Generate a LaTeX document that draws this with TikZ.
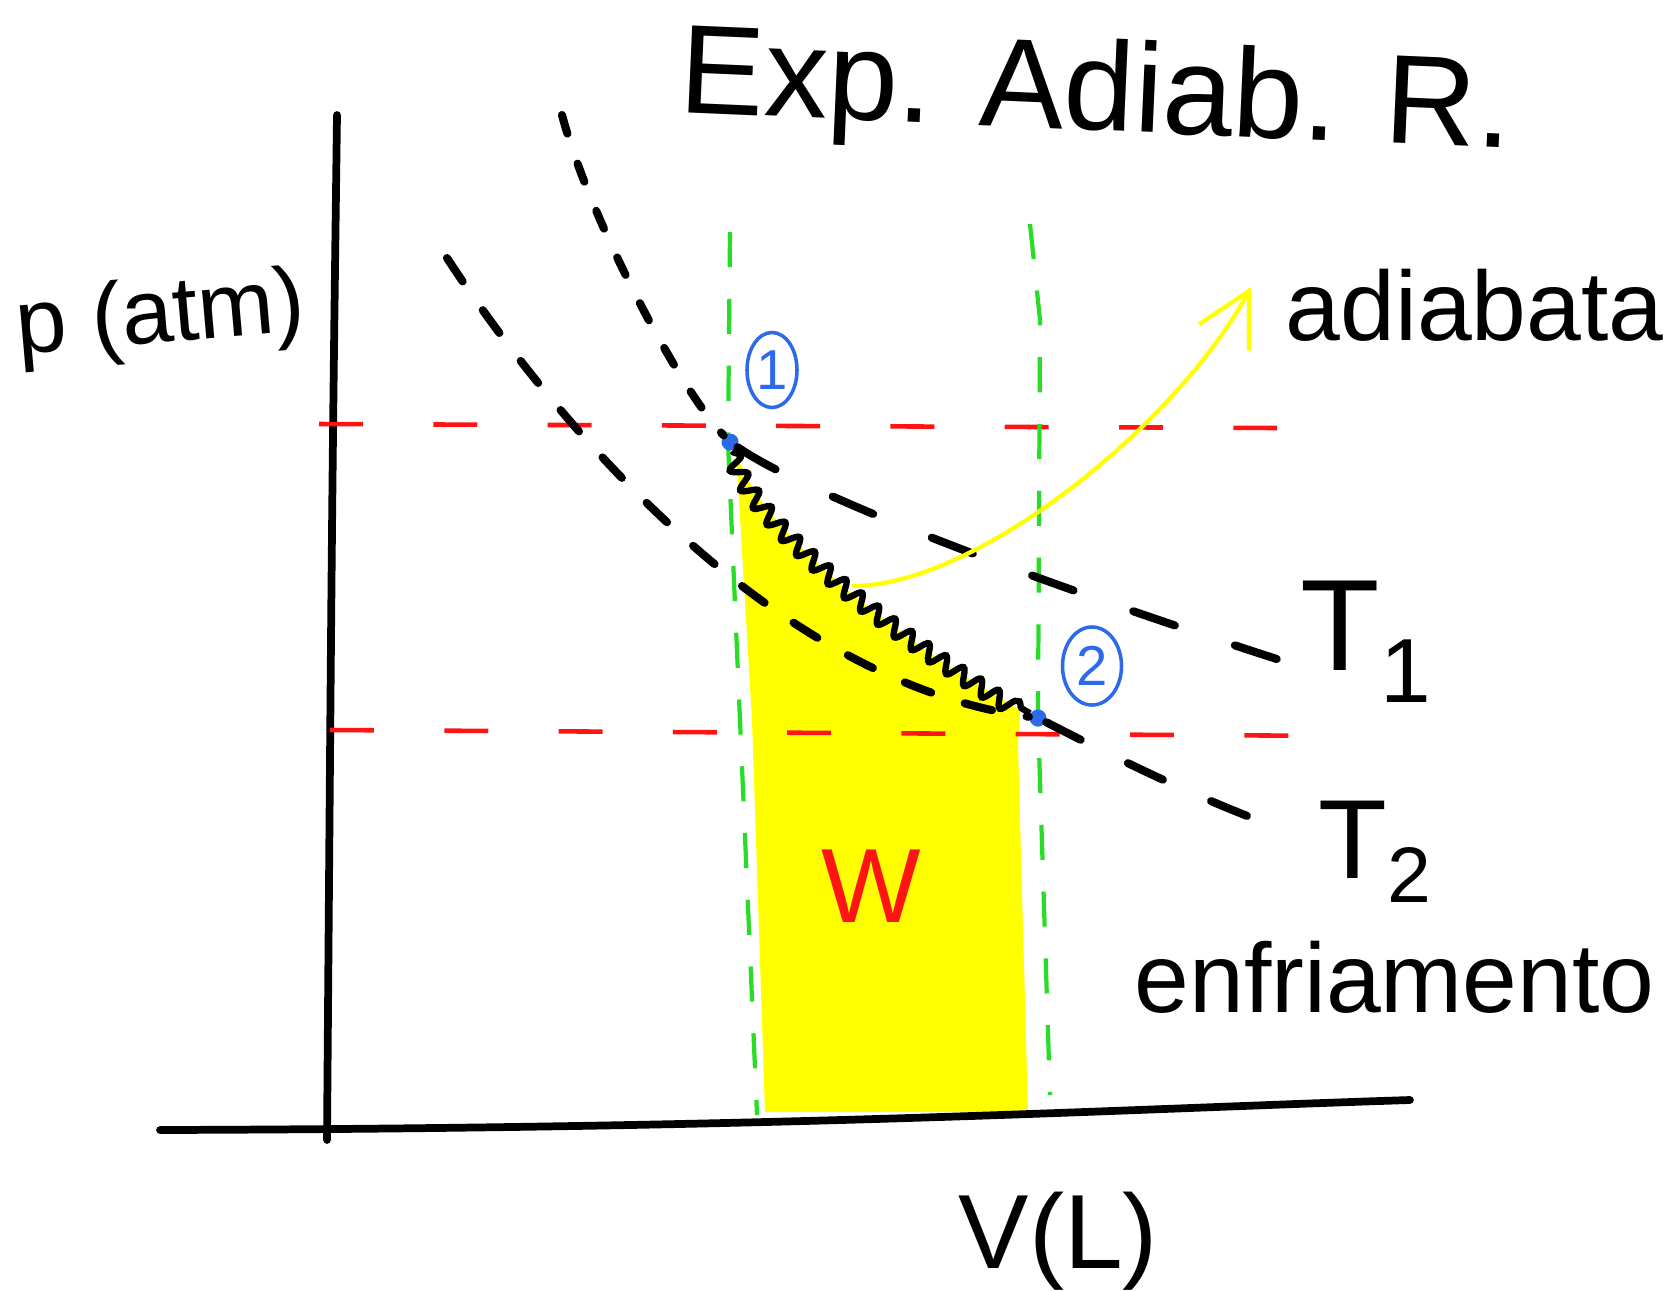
\documentclass[tikz,border=0pt]{standalone}
\usepackage{fontspec}
\setmainfont{Liberation Sans}
\usetikzlibrary{arrows.meta,decorations.pathmorphing,shapes.geometric}
\definecolor{penred}{RGB}{255,20,20}
\definecolor{pengreen}{RGB}{40,220,40}
\definecolor{penblue}{RGB}{45,105,235}
\definecolor{penyellow}{RGB}{255,255,0}
\begin{document}
\begin{tikzpicture}[
    x=0.01cm, y=-0.01cm,
    axis/.style={line width=2.2pt, line cap=round, black},
    isoline/.style={line width=2.3pt, line cap=round, black},
    pline/.style={line width=1.3pt, penred, dash pattern=on 12.5pt off 20pt},
    vline/.style={line width=1.2pt, pengreen, dash pattern=on 10pt off 9pt},
    dot/.style={circle, fill=penblue, inner sep=0pt, minimum size=0.17cm},
    statelbl/.style={ellipse, draw=penblue, line width=1pt, text=penblue, inner sep=0pt, font=\fontsize{16}{18}\selectfont},
    hand/.style={text=black, inner sep=0pt},
]
\useasboundingbox (0,0) rectangle (1669,1290);
\fill[white] (0,0) rectangle (1669,1290);

% Work area
\fill[penyellow] (736,450) .. controls (752,520) and (875,625) .. (1020,710) -- (1018,745) -- (1028,1112) -- (765,1112) -- (752,720) -- cycle;

% Axes
\draw[axis] (337,115) .. controls (332,500) .. (327,1140);
\draw[axis] (160,1130) .. controls (800,1128) and (1100,1110) .. (1410,1100);

% Guides
\draw[pline] (319,424) -- (1277,428);
\draw[pline] (330,730) -- (1352,736);
\draw[vline] (730,232) -- (728,442) -- (757,1115);
\draw[vline] (1030,224) -- (1040,320) -- (1038,718) -- (1050,1095);

% States
\node[dot] (p1) at (730,442) {};
\node[dot] (p2) at (1038,718) {};
\node[statelbl, minimum width=0.5cm, minimum height=0.75cm] (c1) at (772,370) {1};
\node[statelbl, minimum width=0.59cm, minimum height=0.78cm] (c2) at (1092,666) {2};

% Isotherms
\coordinate (t1a) at (562,115);
\coordinate (t1b) at (1283,661);
\coordinate (t2a) at (447,258);
\coordinate (t2b) at (1290,832);
\draw[isoline, dash pattern=on 5.5pt off 9pt] (t1a) .. controls (590,220) and (680,390) .. (p1);
\draw[isoline, dash pattern=on 12.5pt off 18pt] (p1) .. controls (800,490) and (1000,570) .. (t1b);
\draw[isoline, dash pattern=on 8pt off 10pt] (t2a) .. controls (540,400) and (760,680) .. (p2);
\draw[isoline, dash pattern=on 11pt off 15pt] (p2) .. controls (1120,760) and (1200,800) .. (t2b);

% Adiabat
\draw[line width=1.8pt, decorate, decoration={snake, segment length=6pt, amplitude=2.2pt}] (p1) .. controls (745,510) and (880,625) .. (p2);
\coordinate (adb) at (852,586);
\coordinate (adtip) at (1251,287);
\draw[line width=1.2pt, penyellow, -{Straight Barb[length=15pt, width=16pt]}] (adb) .. controls (980,586) and (1180,420) .. (adtip);

% Labels
\node[hand, font=\fontsize{36}{40}\selectfont, anchor=base west, rotate=-2.5] (ttl) at (678,112) {Exp. Adiab. R.};
\node[hand, font=\fontsize{26}{30}\selectfont, anchor=base west, rotate=5] (plbl) at (18,355) {p (atm)};
\node[hand, font=\fontsize{30}{34}\selectfont, anchor=base west] (vlbl) at (958,1268) {V(L)};
\node[hand, font=\fontsize{28}{32}\selectfont, anchor=base west] (adlbl) at (1285,340) {adiabata};
\node[hand, font=\fontsize{37}{40}\selectfont, anchor=base west] (t1lbl) at (1300,670) {T\textsubscript{1}};
\node[hand, font=\fontsize{32}{36}\selectfont, anchor=base west] (t2lbl) at (1318,878) {T\textsubscript{2}};
\node[hand, font=\fontsize{28}{32}\selectfont, anchor=base west] (enfr) at (1134,1012) {enfriamento};
\node[hand, text=penred, font=\fontsize{30}{34}\selectfont] (wlbl) at (871,886) {W};
\end{tikzpicture}
\end{document}
